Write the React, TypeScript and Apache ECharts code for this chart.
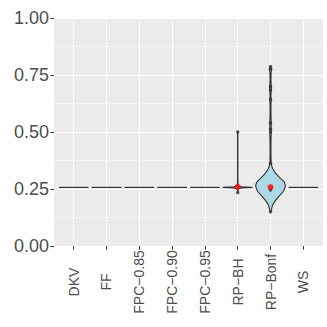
import React, { useEffect, useRef } from "react";
import * as echarts from "echarts";

const categories = ["DKV", "FF", "FPC\u22120.85", "FPC\u22120.90", "FPC\u22120.95", "RP\u2212BH", "RP\u2212Bonf", "WS"];
const yTicks = [0, 0.25, 0.5, 0.75, 1.0];

// violin profiles: y values and relative half-widths (1 = full 0.45 band)
const flatY = [0.257];
const flatW = [1];
const bhY = [0.235, 0.25, 0.2545, 0.257, 0.2595, 0.264, 0.3, 0.4, 0.5];
const bhW = [0.01, 0.02, 0.25, 1.0, 0.25, 0.02, 0.01, 0.01, 0.01];
const bonfY = [0.15, 0.16, 0.18, 0.2, 0.22, 0.24, 0.26, 0.267, 0.28, 0.29, 0.3, 0.32, 0.34, 0.355, 0.37, 0.4, 0.45, 0.5, 0.52, 0.54, 0.58, 0.62, 0.643, 0.66, 0.684, 0.7, 0.73, 0.76, 0.775, 0.787];
const bonfW = [0.02, 0.06, 0.14, 0.34, 0.6, 0.88, 1.0, 1.0, 0.93, 0.79, 0.62, 0.34, 0.14, 0.07, 0.04, 0.03, 0.03, 0.05, 0.04, 0.05, 0.03, 0.03, 0.05, 0.03, 0.05, 0.05, 0.03, 0.04, 0.08, 0.02];

const violinY = [flatY, flatY, flatY, flatY, flatY, bhY, bonfY, flatY];
const violinW = [flatW, flatW, flatW, flatW, flatW, bhW, bonfW, flatW];

const outlierCat = [5, 5, 6, 6, 6, 6, 6, 6, 6, 6, 6, 6, 6];
const outlierVal = [0.5, 0.235, 0.787, 0.775, 0.7, 0.684, 0.643, 0.54, 0.513, 0.5, 0.363, 0.246, 0.15];

const meanCat = [5, 6];
const meanVal = [0.259, 0.258];

export default function App() {
  const ref = useRef<HTMLDivElement>(null);
  useEffect(() => {
    if (!ref.current) return;
    const chart = echarts.init(ref.current, undefined, { renderer: "svg" });
    const font = "'Liberation Sans', Arial, Helvetica, sans-serif";
    const panelLeft = 54, panelRight = 323, panelTop = 18, panelBottom = 246;
    const unit = (panelRight - panelLeft) / 8.2;
    const option: any = {
      animation: false,
      grid: [
        { left: panelLeft, right: 327 - panelRight, top: panelTop, bottom: 327 - panelBottom, show: true, backgroundColor: "#EBEBEB", borderWidth: 0 },
        { left: panelLeft + 0.6 * unit, right: 327 - (panelRight - 0.6 * unit), top: panelTop, bottom: 327 - panelBottom, show: false },
      ],
      xAxis: [
        { gridIndex: 0, type: "value", min: 0, max: 1, show: false },
        {
          gridIndex: 1, type: "category", data: categories, boundaryGap: false,
          axisLine: { show: false },
          axisTick: { show: true, length: 3.6, lineStyle: { color: "#333333", width: 1 } },
          axisLabel: { rotate: 90, fontSize: 14, color: "#4D4D4D", fontFamily: font, margin: 36, interval: 0, align: "center", verticalAlign: "middle" },
          splitLine: { show: true, lineStyle: { color: "#FFFFFF", width: 1.1 } },
        },
      ],
      yAxis: [
        {
          gridIndex: 0, type: "value", min: yTicks[0], max: yTicks[yTicks.length - 1], interval: 0.25,
          axisLine: { show: false },
          axisTick: { show: true, length: 3.6, lineStyle: { color: "#333333", width: 1 } },
          axisLabel: { fontSize: 18, color: "#4D4D4D", fontFamily: font, margin: 5, formatter: (v: number) => v.toFixed(2) },
          splitLine: { show: true, lineStyle: { color: "#FFFFFF", width: 1.1 } },
          minorTick: { show: false, splitNumber: 2 },
          minorSplitLine: { show: true, lineStyle: { color: "#FFFFFF", width: 0.55 } },
        },
        { gridIndex: 1, type: "value", min: 0, max: 1, show: false },
      ],
      series: [
        {
          type: "custom",
          xAxisIndex: 1, yAxisIndex: 1,
          data: categories.map((_, i) => [i]),
          renderItem: (params: any, api: any) => {
            const i = api.value(0);
            const ys = violinY[i];
            const ws = violinW[i];
            const bw = api.coord([1, 0])[0] - api.coord([0, 0])[0];
            const half = bw * 0.45;
            const right: number[][] = [];
            const left: number[][] = [];
            for (let k = 0; k < ys.length; k++) {
              const p = api.coord([i, ys[k]]);
              right.push([p[0] + half * ws[k], p[1]]);
              left.push([p[0] - half * ws[k], p[1]]);
            }
            if (ys.length === 1) {
              return {
                type: "line",
                shape: { x1: left[0][0], y1: left[0][1], x2: right[0][0], y2: right[0][1] },
                style: { stroke: "#333333", lineWidth: 1.2 },
              };
            }
            const pts = right.concat(left.reverse());
            return {
              type: "polygon",
              shape: { points: pts },
              style: { fill: "#ADD8E6", stroke: "#333333", lineWidth: 1.1 },
            };
          },
          z: 2,
        },
        {
          type: "scatter", xAxisIndex: 1, yAxisIndex: 1,
          data: outlierCat.map((c, k) => [c, outlierVal[k]]),
          symbolSize: 3.5, itemStyle: { color: "#333333" }, z: 3,
        },
        {
          type: "scatter", xAxisIndex: 1, yAxisIndex: 1,
          data: meanCat.map((c, k) => [c, meanVal[k]]),
          symbolSize: 6, itemStyle: { color: "#FF0000" }, z: 4,
        },
      ],
    };
    chart.setOption(option);
    return () => chart.dispose();
  }, []);
  return <div ref={ref} style={{ width: 327, height: 327, position: "absolute", left: 0, top: 0 }} />;
}
